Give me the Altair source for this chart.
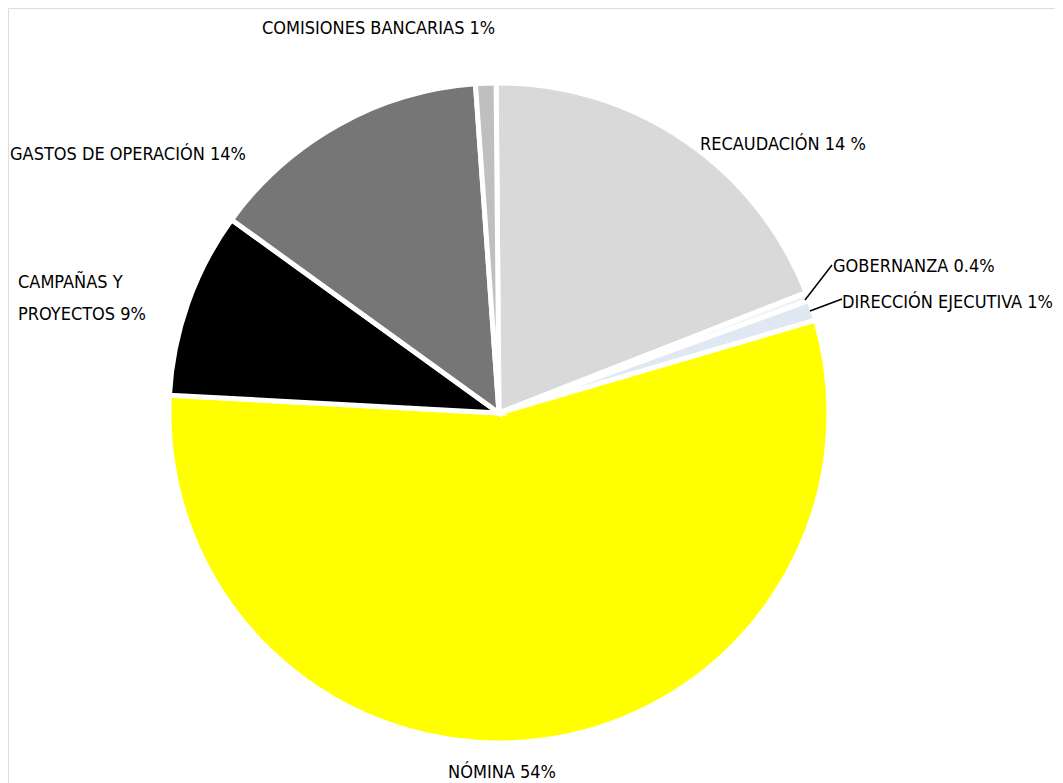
import altair as alt
import pandas as pd

# slice data (clockwise from 12 o'clock)
names = ["RECAUDACIÓN", "GOBERNANZA", "DIRECCIÓN EJECUTIVA", "NÓMINA",
         "CAMPAÑAS Y PROYECTOS", "GASTOS DE OPERACIÓN", "COMISIONES BANCARIAS"]
values = [19.2, 0.4, 1.0, 55.4, 9.1, 13.9, 1.0]
colors = ["#d9d9d9", "#f2f2f2", "#dfe8f3", "#ffff00", "#000000", "#767676", "#bfbfbf"]

# label texts
label_texts = ["COMISIONES BANCARIAS 1%", "RECAUDACIÓN 14 %", "GOBERNANZA 0.4%",
               "DIRECCIÓN EJECUTIVA 1%", "GASTOS DE OPERACIÓN 14%", "CAMPAÑAS Y",
               "PROYECTOS 9%", "NÓMINA 54%"]

# layout (pixel anchors of labels and leader lines)
label_x = [254, 692, 825, 834, 2, 10, 10, 494]
label_y = [21, 137, 259, 295, 147, 275, 307, 765]
label_align = ["left", "left", "left", "left", "left", "left", "left", "center"]
leader_x = [797, 802]
leader_y = [292, 303]
leader_x2 = [824, 834]
leader_y2 = [257, 291]

CX, CY, R = 491, 405, 330
FONT = "DejaVu Sans Condensed"
start = -0.5 * 3.141592653589793 / 180

pie_df = pd.DataFrame({"name": names, "value": values, "idx": list(range(len(names)))})
lab_df = pd.DataFrame({"text": label_texts, "x": label_x, "y": label_y, "align": label_align})
lead_df = pd.DataFrame({"x": leader_x, "y": leader_y, "x2": leader_x2, "y2": leader_y2})

pie = alt.Chart(pie_df).mark_arc(outerRadius=R, stroke="white", strokeWidth=5).encode(
    theta=alt.Theta("value:Q", stack=True,
                    scale=alt.Scale(range=[start, start + 2 * 3.141592653589793])),
    order=alt.Order("idx:Q"),
    color=alt.Color("name:N", scale=alt.Scale(domain=names, range=colors), legend=None),
    x=alt.value(CX),
    y=alt.value(CY),
)

def text_layer(align):
    return alt.Chart(lab_df).transform_filter(alt.datum.align == align).mark_text(
        font=FONT, fontSize=18, color="#000000", align=align, baseline="middle"
    ).encode(
        x=alt.X("x:Q", scale=None, axis=None),
        y=alt.Y("y:Q", scale=None, axis=None),
        text="text:N",
    )

leaders = alt.Chart(lead_df).mark_rule(color="black", strokeWidth=1.5).encode(
    x=alt.X("x:Q", scale=None),
    y=alt.Y("y:Q", scale=None),
    x2="x2:Q",
    y2="y2:Q",
)

chart = alt.layer(pie, leaders, text_layer("left"), text_layer("center")).properties(
    width=1047, height=775, padding=0, autosize=alt.AutoSizeParams(type="none")
).configure_view(strokeWidth=0, stroke="transparent").configure(background="white")

chart.save("out.html", embed_options={"renderer": "svg", "actions": False})
